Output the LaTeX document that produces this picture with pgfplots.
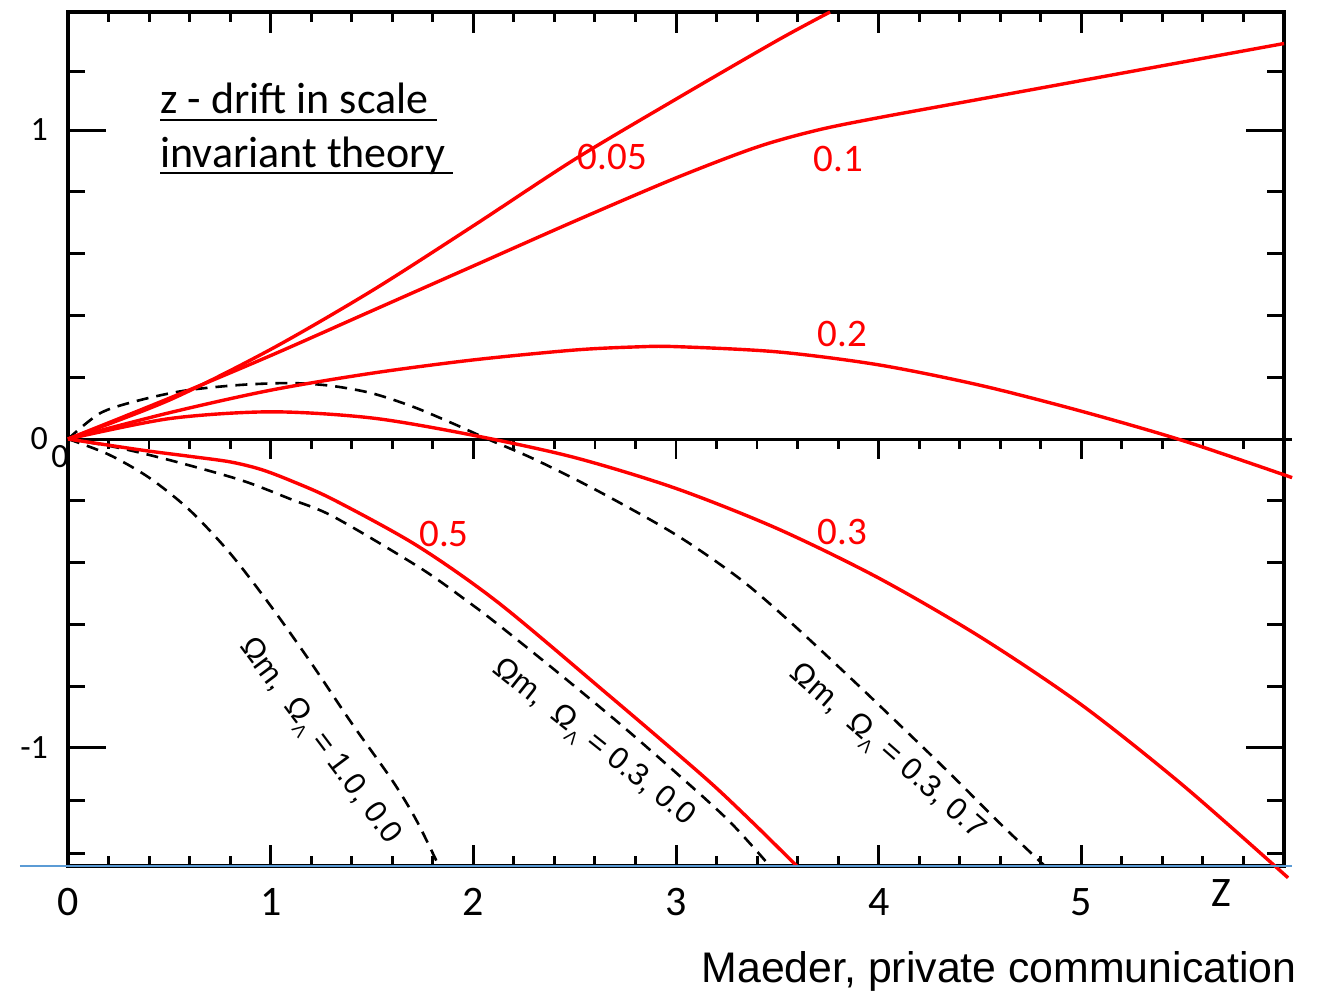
\documentclass[border=0pt]{standalone}
\usepackage{pgfplots}
\pgfplotsset{compat=1.18}
\usepackage{fontspec}
\setmainfont{Carlito}
\newfontfamily\arialf{Liberation Sans}
\usetikzlibrary{calc}
\definecolor{lblue}{RGB}{91,155,213}
\begin{document}
\begin{tikzpicture}
% axis with y ticks
\begin{axis}[scale only axis, width=608pt, height=427pt,
 xmin=0, xmax=6, ymin=-1.382, ymax=1.382,
 axis line style={draw=none},
 xtick=\empty,
 ytick={-1,0,1}, yticklabels={-1,0,1},
 minor ytick={-1.34,-1.17,-0.8,-0.6,-0.4,-0.2,0.2,0.4,0.6,0.8,1.19},
 tick align=inside,
 major tick length=19pt, minor tick length=8.5pt,
 tick style={black, line width=1.5pt},
 yticklabel style={font=\fontsize{17}{17}\selectfont, xshift=-6.5pt},
]
\end{axis}
\begin{axis}[name=ax, scale only axis, width=608pt, height=427pt,
 xmin=0, xmax=6, ymin=-1.382, ymax=1.382,
 axis line style={line width=2.2pt},
 xtick={0,1,2,3,4,5,6}, xticklabels={0,1,2,3,4,5,},
 minor x tick num=4,
 ytick=\empty,
 tick align=inside,
 major tick length=10.5pt, minor tick length=5pt,
 tick style={black, line width=1.5pt},
 xticklabel style={font=\fontsize{21}{21}\selectfont, yshift=-7.5pt},
 clip=false,
]
% zero line with ticks
\addplot[black, line width=1.5pt, forget plot] coordinates {(0,0) (6.04,0)};
\addplot[ycomb, black, line width=1.4pt, mark=none, forget plot] coordinates {
(0.2,-0.0324)(0.4,-0.0324)(0.6,-0.0324)(0.8,-0.0324)(1,-0.066)
(1.2,-0.0324)(1.4,-0.0324)(1.6,-0.0324)(1.8,-0.0324)(2,-0.066)
(2.2,-0.0324)(2.4,-0.0324)(2.6,-0.0324)(2.8,-0.0324)(3,-0.066)
(3.2,-0.0324)(3.4,-0.0324)(3.6,-0.0324)(3.8,-0.0324)(4,-0.066)
(4.2,-0.0324)(4.4,-0.0324)(4.6,-0.0324)(4.8,-0.0324)(5,-0.066)
(5.2,-0.0324)(5.4,-0.0324)(5.6,-0.0324)(5.8,-0.0324)};
% dashed standard curves
% Omega_m, Omega_L = 0.3, 0.7
\addplot[black, line width=1.3pt, dash pattern=on 6pt off 4pt, smooth] coordinates {
(0,0)(0.16,0.084)(0.35,0.125)(0.58,0.157)(0.85,0.175)(1.1,0.181)(1.3,0.172)(1.5,0.148)(1.7,0.105)(1.9,0.05)(2.07,0)(2.3,-0.065)(2.62,-0.17)(3.0,-0.31)(3.31,-0.45)(3.56,-0.59)(3.92,-0.81)(4.34,-1.075)(4.6,-1.245)(4.82,-1.382)};
% Omega_m, Omega_L = 0.3, 0.0
\addplot[black, line width=1.3pt, dash pattern=on 6pt off 4pt, smooth] coordinates {
(0,0)(0.232,-0.026)(0.5,-0.068)(0.853,-0.133)(1.1,-0.195)(1.312,-0.252)(1.737,-0.417)(1.983,-0.531)(2.131,-0.605)(2.427,-0.761)(2.723,-0.922)(3.019,-1.091)(3.266,-1.239)(3.463,-1.382)};
% Omega_m, Omega_L = 1.0, 0.0
\addplot[black, line width=1.3pt, dash pattern=on 6pt off 4pt, smooth] coordinates {
(0,0)(0.2,-0.05)(0.4,-0.125)(0.6,-0.23)(0.8,-0.37)(1.0,-0.54)(1.2,-0.725)(1.4,-0.92)(1.6,-1.105)(1.72,-1.235)(1.83,-1.382)};
% red curves
\addplot[red, line width=1.7pt, smooth] coordinates {
(0,0)(0.5,0.126)(1.0,0.29)(1.5,0.48)(2.0,0.69)(2.5,0.905)(3.0,1.10)(3.5,1.29)(3.76,1.382)};
\addplot[red, line width=1.7pt, smooth] coordinates {
(0,0)(0.5,0.132)(1.0,0.27)(1.5,0.415)(2.0,0.56)(2.5,0.705)(3.0,0.845)(3.4,0.945)(3.7,1.0)(4.0,1.04)(4.5,1.10)(5.0,1.16)(5.5,1.22)(6.0,1.28)};
\addplot[red, line width=1.7pt, smooth] coordinates {
(0,0)(0.5,0.085)(1.0,0.158)(1.5,0.213)(2.0,0.256)(2.5,0.288)(2.8,0.298)(3.0,0.299)(3.5,0.282)(4.0,0.24)(4.5,0.174)(5.0,0.09)(5.5,-0.005)(6.04,-0.125)};
\addplot[red, line width=1.7pt, smooth] coordinates {
(0,0)(0.5,0.066)(1,0.088)(1.5,0.068)(2,0.012)(2.5,-0.06)(3,-0.16)(3.5,-0.29)(4,-0.45)(4.5,-0.64)(5,-0.86)(5.5,-1.12)(6.02,-1.42)};
\addplot[red, line width=1.7pt, smooth] coordinates {
(0,0)(0.365,-0.036)(0.6,-0.056)(0.8,-0.074)(0.95,-0.098)(1.1,-0.135)(1.312,-0.197)(1.722,-0.345)(2.126,-0.531)(2.664,-0.827)(3.0,-1.015)(3.2,-1.13)(3.4,-1.255)(3.596,-1.382)};
% blue baseline
\addplot[lblue, line width=0.8pt, forget plot] coordinates {(-0.237,-1.382)(6.04,-1.382)};
% red labels
\node[red, font=\fontsize{19.5}{19.5}\selectfont] at (axis cs:2.686,0.914) {0.05};
\node[red, font=\fontsize{19.5}{19.5}\selectfont] at (axis cs:3.80,0.906) {0.1};
\node[red, font=\fontsize{19.5}{19.5}\selectfont] at (axis cs:3.82,0.34) {0.2};
\node[red, font=\fontsize{19.5}{19.5}\selectfont] at (axis cs:3.82,-0.301) {0.3};
\node[red, font=\fontsize{19.5}{19.5}\selectfont] at (axis cs:1.855,-0.306) {0.5};
% rotated omega labels
\node[rotate=-53.2, font=\arialf\fontsize{15.5}{15.5}\selectfont] at (axis cs:1.238,-0.981) {Ωm,\ \ Ω\raisebox{-0.5ex}{\fontsize{9}{9}\selectfont Λ} = 1.0, 0.0};
\node[rotate=-38.5, font=\arialf\fontsize{15.5}{15.5}\selectfont] at (axis cs:2.59,-0.985) {Ωm,\ \ Ω\raisebox{-0.5ex}{\fontsize{9}{9}\selectfont Λ} = 0.3, 0.0};
\node[rotate=-41.2, font=\arialf\fontsize{15.5}{15.5}\selectfont] at (axis cs:4.04,-1.015) {Ωm,\ \ Ω\raisebox{-0.5ex}{\fontsize{9}{9}\selectfont Λ} = 0.3, 0.7};
% title
\node[anchor=base west, inner sep=0pt, font=\fontsize{22}{22}\selectfont] at (axis cs:0.454,1.055) {z - drift in scale};
\node[anchor=base west, inner sep=0pt, font=\fontsize{22}{22}\selectfont] at (axis cs:0.454,0.880) {invariant theory};
\draw[line width=1.3pt] (axis cs:0.454,1.032) -- (axis cs:1.82,1.032);
\draw[line width=1.3pt] (axis cs:0.454,0.861) -- (axis cs:1.899,0.861);
% extra labels
\node[font=\fontsize{17}{17}\selectfont] at (axis cs:-0.04,-0.058) {0};
\node[font=\fontsize{21}{21}\selectfont] at (axis cs:5.691,-1.471) {Z};
\node[anchor=base east, inner sep=0pt, font=\arialf\fontsize{21.4}{21.4}\selectfont] at (axis cs:6.063,-1.760) {Maeder, private communication};
\end{axis}
\pgfresetboundingbox
\path[use as bounding box] ($(ax.south west)+(-34pt,-63pt)$) rectangle ($(ax.north east)+(22pt,6pt)$);
\end{tikzpicture}
\end{document}
